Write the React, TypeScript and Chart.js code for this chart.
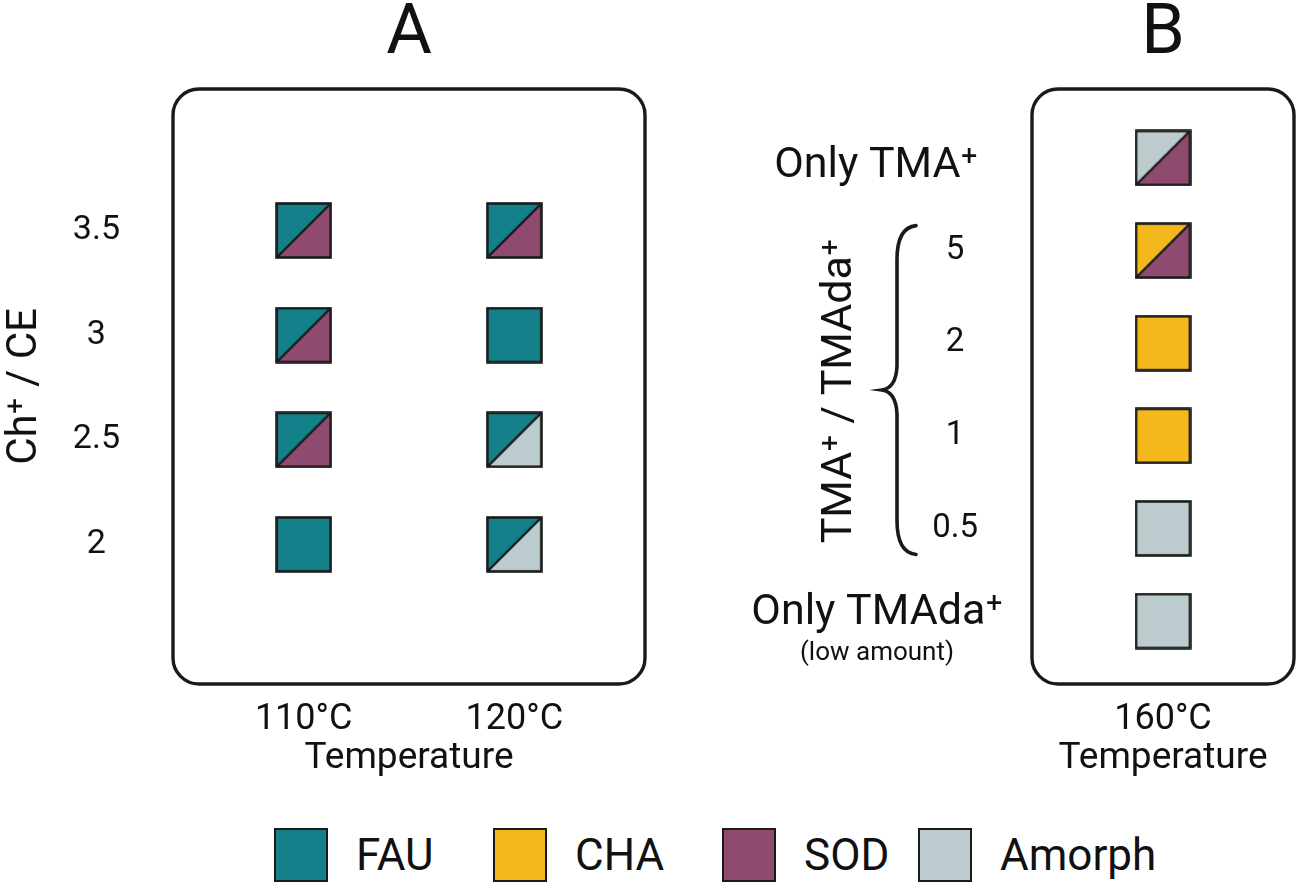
import React, { useEffect, useRef } from "react";
import { Chart, registerables } from "chart.js";

Chart.register(...registerables);

// ---------- data ----------
const PHASES = ["FAU", "CHA", "SOD", "Amorph"];
const PHASE_COLORS = ["#13808a", "#f4b81d", "#8f4a6f", "#bccbce"];

// Panel A : Ch+/CE vs temperature
const TEMPS_A = ["110°C", "120°C"];
const RATIOS_A = [2, 2.5, 3, 3.5];
const UPPER_110 = ["FAU", "FAU", "FAU", "FAU"];
const LOWER_110 = ["FAU", "SOD", "SOD", "SOD"];
const UPPER_120 = ["FAU", "FAU", "FAU", "FAU"];
const LOWER_120 = ["Amorph", "Amorph", "FAU", "SOD"];

// Panel B : TMA+/TMAda+ at 160 °C (rows bottom -> top)
const TEMPS_B = ["160°C"];
const ROWS_B = ["Only TMAda⁺", "0.5", "1", "2", "5", "Only TMA⁺"];
const NUMERIC_ROWS_B = [1, 2, 3, 4];
const UPPER_160 = ["Amorph", "Amorph", "CHA", "CHA", "CHA", "Amorph"];
const LOWER_160 = ["Amorph", "Amorph", "CHA", "CHA", "SOD", "SOD"];

const TITLE_A = "A";
const TITLE_B = "B";
const Y_TITLE_A = "Ch⁺ / CE";
const Y_TITLE_B = "TMA⁺ / TMAda⁺";
const X_TITLE = "Temperature";
const NOTE_B = "(low amount)";

// ---------- helpers ----------
const FONT = "Roboto";
const INK = "#111111";
const EDGE = "#1a1a1a";

function phaseColor(p: string) {
  return PHASE_COLORS[PHASES.indexOf(p)];
}

function makeSquare(upper: string, lower: string): HTMLCanvasElement {
  const S = 57;
  const c = document.createElement("canvas");
  c.width = S;
  c.height = S;
  const ctx = c.getContext("2d")!;
  const a = 1.5;
  const b = S - 1.5;
  if (upper === lower) {
    ctx.fillStyle = phaseColor(upper);
    ctx.fillRect(a, a, b - a, b - a);
  } else {
    ctx.fillStyle = phaseColor(upper);
    ctx.beginPath();
    ctx.moveTo(a, a);
    ctx.lineTo(b, a);
    ctx.lineTo(a, b);
    ctx.closePath();
    ctx.fill();
    ctx.fillStyle = phaseColor(lower);
    ctx.beginPath();
    ctx.moveTo(b, a);
    ctx.lineTo(b, b);
    ctx.lineTo(a, b);
    ctx.closePath();
    ctx.fill();
    ctx.strokeStyle = EDGE;
    ctx.lineWidth = 2.4;
    ctx.beginPath();
    ctx.moveTo(a, b);
    ctx.lineTo(b, a);
    ctx.stroke();
  }
  ctx.strokeStyle = EDGE;
  ctx.lineWidth = 2.6;
  ctx.strokeRect(a, a, b - a, b - a);
  return c;
}

function roundRect(ctx: CanvasRenderingContext2D, x: number, y: number, w: number, h: number, r: number) {
  ctx.beginPath();
  ctx.moveTo(x + r, y);
  ctx.lineTo(x + w - r, y);
  ctx.arcTo(x + w, y, x + w, y + r, r);
  ctx.lineTo(x + w, y + h - r);
  ctx.arcTo(x + w, y + h, x + w - r, y + h, r);
  ctx.lineTo(x + r, y + h);
  ctx.arcTo(x, y + h, x, y + h - r, r);
  ctx.lineTo(x, y + r);
  ctx.arcTo(x, y, x + r, y, r);
  ctx.closePath();
}

const decorPlugin = {
  id: "panelDecor",
  beforeDatasetsDraw(chart: any, _args: any, opts: any) {
    const { ctx, chartArea } = chart;
    const { left, top, right, bottom } = chartArea;
    ctx.save();
    ctx.strokeStyle = EDGE;
    ctx.lineWidth = 3.4;
    roundRect(ctx, left + 1, top, right - left - 2, bottom - top, 26);
    ctx.stroke();
    ctx.fillStyle = INK;
    ctx.font = `70px ${FONT}`;
    ctx.textAlign = "center";
    ctx.textBaseline = "alphabetic";
    ctx.fillText(opts.letter, (left + right) / 2, 53);
    if (opts.extra) opts.extra(chart);
    ctx.restore();
  },
};

function drawPanelBExtras(chart: any) {
  const { ctx, chartArea } = chart;
  const y = chart.scales.y;
  const L = chartArea.left;
  ctx.fillStyle = INK;
  ctx.textAlign = "center";
  ctx.textBaseline = "alphabetic";
  // row labels for the "Only" rows
  ctx.font = `43px ${FONT}`;
  ctx.fillText(ROWS_B[5], L - 155, y.getPixelForValue(5) + 19);
  ctx.fillText(ROWS_B[0], L - 154, y.getPixelForValue(0) + 3);
  ctx.font = `26px ${FONT}`;
  ctx.fillText(NOTE_B, L - 154, y.getPixelForValue(0) + 39);

  // rotated axis title
  const yTop = y.getPixelForValue(NUMERIC_ROWS_B[NUMERIC_ROWS_B.length - 1]) - 25;
  const yBot = y.getPixelForValue(NUMERIC_ROWS_B[0]) + 26;
  const yMid = (yTop + yBot) / 2;
  ctx.save();
  ctx.translate(L - 180, yMid + 1);
  ctx.rotate(-Math.PI / 2);
  ctx.font = `43px ${FONT}`;
  ctx.fillText(Y_TITLE_B, 0, 0);
  ctx.restore();

  // curly brace
  const xr = L - 115;
  const xm = L - 134;
  const xt = L - 149;
  ctx.strokeStyle = EDGE;
  ctx.lineWidth = 3.6;
  ctx.lineCap = "round";
  ctx.beginPath();
  ctx.moveTo(xr, yTop);
  ctx.quadraticCurveTo(xm, yTop + 2, xm, yTop + 34);
  ctx.lineTo(xm, yMid - 24);
  ctx.quadraticCurveTo(xm - 1, yMid - 2, xt, yMid);
  ctx.quadraticCurveTo(xm - 1, yMid + 2, xm, yMid + 24);
  ctx.lineTo(xm, yBot - 34);
  ctx.quadraticCurveTo(xm, yBot - 2, xr, yBot);
  ctx.stroke();
}

function xAxis(labels: string[], min: number, max: number) {
  return {
    type: "linear",
    min,
    max,
    afterBuildTicks: (s: any) => {
      s.ticks = labels.map((_, i) => ({ value: i }));
    },
    afterFit: (s: any) => {
      s.height = 116;
    },
    ticks: {
      callback: (v: any) => labels[v],
      font: { family: FONT, size: 36 },
      color: INK,
      padding: 6,
      maxRotation: 0,
      autoSkip: false,
    },
    grid: { display: false },
    border: { display: false },
    title: {
      display: true,
      text: X_TITLE,
      font: { family: FONT, size: 37 },
      color: INK,
      padding: { top: 0, bottom: 19 },
    },
  };
}

function buildPanelA(canvas: HTMLCanvasElement) {
  const columns = [
    { upper: UPPER_110, lower: LOWER_110 },
    { upper: UPPER_120, lower: LOWER_120 },
  ];
  const datasets = columns.map((col, i) => ({
    label: TEMPS_A[i],
    data: RATIOS_A.map((r) => ({ x: i, y: r })),
    pointStyle: RATIOS_A.map((_, j) => makeSquare(col.upper[j], col.lower[j])),
    pointRadius: 27,
    pointHoverRadius: 27,
  }));
  return new Chart(canvas, {
    type: "scatter",
    data: { datasets },
    options: {
      responsive: false,
      animation: false,
      events: [],
      layout: { autoPadding: false, padding: { left: 0, right: 14, top: 89, bottom: 0 } },
      plugins: {
        legend: { display: false },
        tooltip: { enabled: false },
        panelDecor: { letter: TITLE_A },
      } as any,
      scales: {
        x: xAxis(TEMPS_A, -0.625, 1.625),
        y: {
          type: "linear",
          min: 1.333,
          max: 4.176,
          afterBuildTicks: (s: any) => {
            s.ticks = RATIOS_A.map((v) => ({ value: v }));
          },
          afterFit: (s: any) => {
            s.width = 172;
          },
          ticks: {
            callback: (v: any) => String(v),
            font: { family: FONT, size: 34 },
            color: INK,
            padding: 44,
            crossAlign: "center",
            autoSkip: false,
          },
          grid: { display: false },
          border: { display: false },
          title: {
            display: true,
            text: Y_TITLE_A,
            font: { family: FONT, size: 42 },
            color: INK,
            padding: { top: 0, bottom: 0 },
          },
        },
      },
    } as any,
    plugins: [decorPlugin],
  });
}

function buildPanelB(canvas: HTMLCanvasElement) {
  const datasets = [
    {
      label: TEMPS_B[0],
      data: ROWS_B.map((_, j) => ({ x: 0, y: j })),
      pointStyle: ROWS_B.map((_, j) => makeSquare(UPPER_160[j], LOWER_160[j])),
      pointRadius: 27,
      pointHoverRadius: 27,
    },
  ];
  return new Chart(canvas, {
    type: "scatter",
    data: { datasets },
    options: {
      responsive: false,
      animation: false,
      events: [],
      layout: { autoPadding: false, padding: { left: 0, right: 5, top: 89, bottom: 0 } },
      plugins: {
        legend: { display: false },
        tooltip: { enabled: false },
        panelDecor: { letter: TITLE_B, extra: drawPanelBExtras },
      } as any,
      scales: {
        x: xAxis(TEMPS_B, -0.5, 0.5),
        y: {
          type: "linear",
          min: -0.68,
          max: 5.745,
          afterBuildTicks: (s: any) => {
            s.ticks = NUMERIC_ROWS_B.map((v) => ({ value: v }));
          },
          afterFit: (s: any) => {
            s.width = 331;
          },
          ticks: {
            callback: (v: any) => ROWS_B[v],
            font: { family: FONT, size: 33 },
            color: INK,
            padding: 45,
            crossAlign: "center",
            autoSkip: false,
          },
          grid: { display: false },
          border: { display: false },
        },
      },
    } as any,
    plugins: [decorPlugin],
  });
}

const LEGEND_X = [274, 493, 722, 918];

export default function App() {
  const refA = useRef<HTMLCanvasElement>(null);
  const refB = useRef<HTMLCanvasElement>(null);

  useEffect(() => {
    Chart.defaults.font.family = FONT;
    Chart.defaults.color = INK;
    const a = buildPanelA(refA.current!);
    const b = buildPanelB(refB.current!);
    return () => {
      a.destroy();
      b.destroy();
    };
  }, []);

  return (
    <div
      style={{
        position: "absolute",
        left: 0,
        top: 0,
        width: 1300,
        height: 886,
        background: "#ffffff",
        overflow: "hidden",
        fontFamily: FONT,
      }}
    >
      <canvas ref={refA} width={660} height={800} style={{ position: "absolute", left: 0, top: 0 }} />
      <canvas ref={refB} width={600} height={800} style={{ position: "absolute", left: 700, top: 0 }} />
      {PHASES.map((p, i) => (
        <div
          key={p}
          style={{
            position: "absolute",
            left: LEGEND_X[i],
            top: 828,
            height: 54,
            display: "flex",
            alignItems: "center",
          }}
        >
          <div
            style={{
              width: 54,
              height: 54,
              boxSizing: "border-box",
              border: `2.6px solid ${EDGE}`,
              background: PHASE_COLORS[i],
            }}
          />
          <span style={{ marginLeft: 28, fontSize: 44, color: INK, lineHeight: "54px", whiteSpace: "nowrap" }}>{p}</span>
        </div>
      ))}
    </div>
  );
}
